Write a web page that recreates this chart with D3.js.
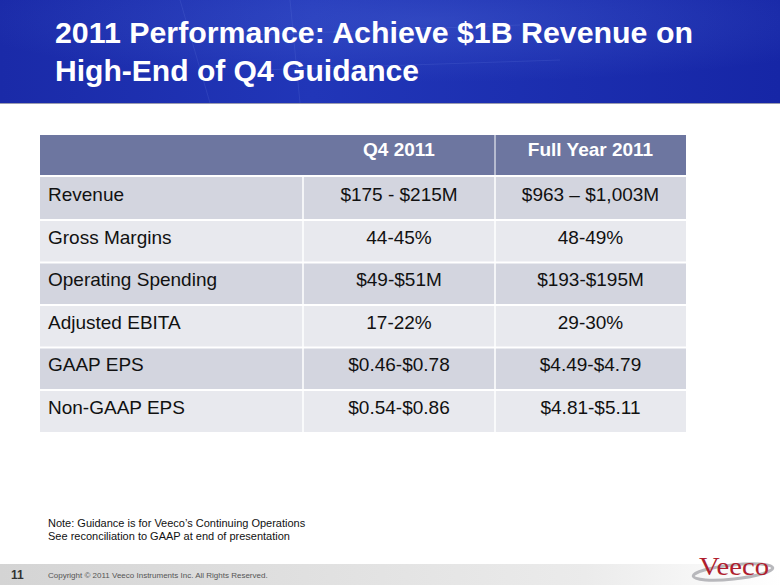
<!DOCTYPE html>
<html><head><meta charset="utf-8">
<script src="https://cdn.jsdelivr.net/npm/d3@7"></script>
<style>html,body{margin:0;padding:0;background:#fff;overflow:hidden}svg{display:block;font-family:Arial,"Liberation Sans",sans-serif}</style>
</head><body>
<script>
const titleLines = ["2011 Performance: Achieve $1B Revenue on", "High-End of Q4 Guidance"];
const columns = ["", "Q4 2011", "Full Year 2011"];
const metrics = ["Revenue", "Gross Margins", "Operating Spending", "Adjusted EBITA", "GAAP EPS", "Non-GAAP EPS"];
const q4Values = ["$175 - $215M", "44-45%", "$49-$51M", "17-22%", "$0.46-$0.78", "$0.54-$0.86"];
const fyValues = ["$963 \u2013 $1,003M", "48-49%", "$193-$195M", "29-30%", "$4.49-$4.79", "$4.81-$5.11"];
const notes = ["Note: Guidance is for Veeco\u2019s Continuing Operations", "See reconciliation to GAAP at end of presentation"];

const W = 780, H = 585;
const svg = d3.select("body").append("svg").attr("width", W).attr("height", H);
const defs = svg.append("defs");

const hg = defs.append("linearGradient").attr("id", "hg").attr("x1", 0).attr("y1", 0).attr("x2", 1).attr("y2", 0);
hg.append("stop").attr("offset", 0).attr("stop-color", "#1a2aa8");
hg.append("stop").attr("offset", 0.4).attr("stop-color", "#2136b8");
hg.append("stop").attr("offset", 1).attr("stop-color", "#1626a6");
const rg = defs.append("radialGradient").attr("id", "rg").attr("cx", 0.55).attr("cy", 0.2).attr("r", 0.6);
rg.append("stop").attr("offset", 0).attr("stop-color", "#5a78e0").attr("stop-opacity", 0.3);
rg.append("stop").attr("offset", 1).attr("stop-color", "#5a78e0").attr("stop-opacity", 0);
const fg = defs.append("linearGradient").attr("id", "fg").attr("x1", 0).attr("y1", 0).attr("x2", 1).attr("y2", 0);
fg.append("stop").attr("offset", 0).attr("stop-color", "#d4d4d4");
fg.append("stop").attr("offset", 0.75).attr("stop-color", "#ebebeb");
fg.append("stop").attr("offset", 1).attr("stop-color", "#ffffff");

svg.append("rect").attr("x", 0).attr("y", 0).attr("width", W).attr("height", 103).attr("fill", "url(#hg)");
svg.append("rect").attr("x", 0).attr("y", 0).attr("width", W).attr("height", 103).attr("fill", "url(#rg)");
const hdr = svg.append("g").attr("stroke", "#6f86e6").attr("stroke-opacity", 0.18).attr("fill", "none");
hdr.append("path").attr("d", "M180,0 L210,103 M290,0 L300,103 M250,35 L520,25 M260,70 L560,60");
svg.append("line").attr("x1", 0).attr("x2", W).attr("y1", 103.5).attr("y2", 103.5).attr("stroke", "#9a9cb0").attr("stroke-width", 1);

const titleWidths = [638, 364];
svg.append("g").selectAll("text").data(titleLines).join("text")
  .attr("x", 55).attr("y", (d, i) => 43 + i * 37.5)
  .attr("fill", "#fff").attr("font-weight", "bold").attr("font-size", 29)
  .attr("textLength", (d, i) => titleWidths[i]).attr("lengthAdjust", "spacingAndGlyphs")
  .text(d => d);

const colEdges = [40, 303, 495, 686];
const rowsTop = 177, rowH = 42.5, headTop = 135, headBot = 175;
const y = d3.scaleBand().domain(metrics).range([rowsTop, rowsTop + rowH * metrics.length]).padding(0);
const tbl = svg.append("g");

tbl.append("rect").attr("x", colEdges[0]).attr("y", headTop).attr("width", colEdges[3] - colEdges[0]).attr("height", headBot - headTop).attr("fill", "#6d76a0");
tbl.append("line").attr("x1", colEdges[2]).attr("x2", colEdges[2]).attr("y1", headTop).attr("y2", headBot).attr("stroke", "#fff").attr("stroke-width", 1);
tbl.selectAll("text.h").data(columns.slice(1)).join("text").attr("class", "h")
  .attr("x", (d, i) => (colEdges[i + 1] + colEdges[i + 2]) / 2).attr("y", headTop + 21)
  .attr("text-anchor", "middle").attr("fill", "#fff").attr("font-weight", "bold").attr("font-size", 19)
  .text(d => d);

const rowData = metrics.map((m, i) => ({ m, q: q4Values[i], f: fyValues[i], i }));
const rows = tbl.selectAll("g.row").data(rowData).join("g").attr("class", "row");
rows.append("rect").attr("x", colEdges[0]).attr("y", d => y(d.m))
  .attr("width", colEdges[3] - colEdges[0]).attr("height", y.bandwidth())
  .attr("fill", d => d.i % 2 === 0 ? "#d3d5df" : "#e8e9ee");
rows.append("line").attr("x1", colEdges[0]).attr("x2", colEdges[3])
  .attr("y1", d => y(d.m) + 0.5).attr("y2", d => y(d.m) + 0.5)
  .attr("stroke", "#fff").attr("stroke-width", d => d.i === 0 ? 0 : 2);
rows.append("line").attr("x1", colEdges[1]).attr("x2", colEdges[1])
  .attr("y1", d => y(d.m)).attr("y2", d => y(d.m) + y.bandwidth()).attr("stroke", "#fff").attr("stroke-width", 1.5);
rows.append("line").attr("x1", colEdges[2]).attr("x2", colEdges[2])
  .attr("y1", d => y(d.m)).attr("y2", d => y(d.m) + y.bandwidth()).attr("stroke", "#fff").attr("stroke-width", 1.5);
const ty = d => y(d.m) + 24;
rows.append("text").attr("x", 48).attr("y", ty).attr("font-size", 19).attr("fill", "#111").text(d => d.m);
rows.append("text").attr("x", (colEdges[1] + colEdges[2]) / 2).attr("y", ty).attr("text-anchor", "middle").attr("font-size", 19).attr("fill", "#111").text(d => d.q);
rows.append("text").attr("x", (colEdges[2] + colEdges[3]) / 2).attr("y", ty).attr("text-anchor", "middle").attr("font-size", 19).attr("fill", "#111").text(d => d.f);

svg.append("g").selectAll("text").data(notes).join("text")
  .attr("x", 48).attr("y", (d, i) => 527 + i * 13).attr("font-size", 11).attr("fill", "#111").text(d => d);

svg.append("rect").attr("x", 0).attr("y", 564).attr("width", W).attr("height", 21).attr("fill", "url(#fg)");
svg.append("text").attr("x", 11).attr("y", 579).attr("font-size", 12).attr("font-weight", "bold").attr("fill", "#333").text("11");
svg.append("text").attr("x", 48).attr("y", 578).attr("font-size", 8).attr("fill", "#555").text("Copyright \u00a9 2011 Veeco Instruments Inc. All Rights Reserved.");

svg.append("ellipse").attr("cx", 733).attr("cy", 572).attr("rx", 40).attr("ry", 7)
  .attr("fill", "none").attr("stroke", "#b8b8bc").attr("stroke-width", 3).attr("transform", "rotate(-6,733,572)");
svg.append("text").attr("x", 699).attr("y", 575).attr("font-family", "'Liberation Serif','DejaVu Serif',serif")
  .attr("font-size", 26).attr("fill", "#b01e2e").attr("textLength", 70).attr("lengthAdjust", "spacingAndGlyphs").text("Veeco");
</script>
</body></html>
